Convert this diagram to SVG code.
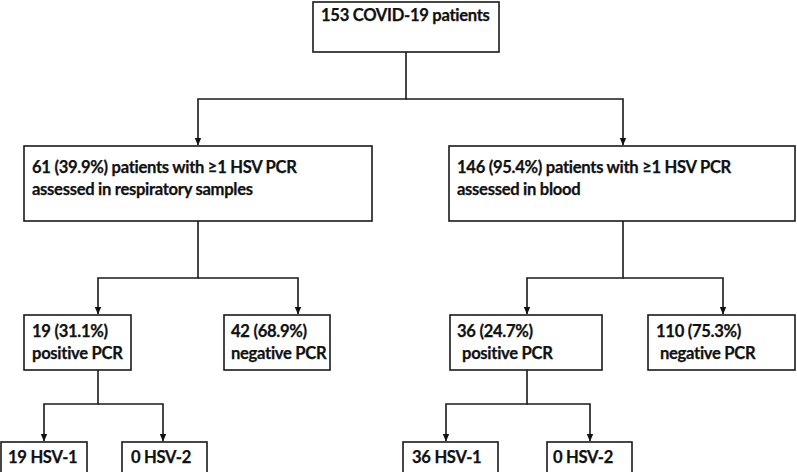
<svg xmlns="http://www.w3.org/2000/svg" width="797" height="472" viewBox="0 0 797 472">
<defs>
<marker id="ah" markerWidth="8" markerHeight="8" refX="7" refY="4" orient="auto" markerUnits="userSpaceOnUse">
<path d="M0,0.8 L7.5,4 L0,7.2 Z" fill="#111"/>
</marker>
<style>
.box{fill:#fff;stroke:#1a1a1a;stroke-width:1.6}
.t{font-family:Lato,"Open Sans","Liberation Sans",sans-serif;font-weight:bold;font-size:16.6px;letter-spacing:-0.3px;fill:#111;stroke:#111;stroke-width:0.25}
.c{fill:none;stroke:#1a1a1a;stroke-width:1.6}
</style>
</defs>
<rect width="797" height="472" fill="#fff"/>
<g id="connectors">
<path class="c" d="M406,52 V99 H198 V145" marker-end="url(#ah)"/>
<path class="c" d="M406,99 H623 V145" marker-end="url(#ah)"/>
<path class="c" d="M198,221 V278 H98 V314" marker-end="url(#ah)"/>
<path class="c" d="M198,278 H298 V314" marker-end="url(#ah)"/>
<path class="c" d="M623,221 V278 H527 V314" marker-end="url(#ah)"/>
<path class="c" d="M623,278 H723 V314" marker-end="url(#ah)"/>
<path class="c" d="M98,370 V404 H44 V441" marker-end="url(#ah)"/>
<path class="c" d="M98,404 H163 V441" marker-end="url(#ah)"/>
<path class="c" d="M527,370 V404 H446 V441" marker-end="url(#ah)"/>
<path class="c" d="M527,404 H590 V441" marker-end="url(#ah)"/>
</g>
<g id="n-top">
<rect class="box" x="313" y="2" width="186" height="50"/>
<text class="t" x="321" y="21">153 COVID-19 patients</text>
</g>
<g id="n-resp">
<rect class="box" x="24" y="146" width="348" height="75"/>
<text class="t" x="32" y="173">61 (39.9%) patients with ≥1 HSV PCR</text>
<text class="t" x="32" y="195">assessed in respiratory samples</text>
</g>
<g id="n-blood">
<rect class="box" x="449" y="146" width="346" height="75"/>
<text class="t" x="457" y="173">146 (95.4%) patients with ≥1 HSV PCR</text>
<text class="t" x="457" y="195">assessed in blood</text>
</g>
<g id="n-resp-pos">
<rect class="box" x="24" y="315" width="107" height="55"/>
<text class="t" x="32" y="337">19 (31.1%)</text>
<text class="t" x="32" y="359">positive PCR</text>
</g>
<g id="n-resp-neg">
<rect class="box" x="224" y="315" width="106" height="55"/>
<text class="t" x="231" y="337">42 (68.9%)</text>
<text class="t" x="231" y="359">negative PCR</text>
</g>
<g id="n-blood-pos">
<rect class="box" x="450" y="315" width="152" height="55"/>
<text class="t" x="457" y="337">36 (24.7%)</text>
<text class="t" x="462" y="359">positive PCR</text>
</g>
<g id="n-blood-neg">
<rect class="box" x="648" y="315" width="147" height="55"/>
<text class="t" x="656" y="337">110 (75.3%)</text>
<text class="t" x="660" y="359">negative PCR</text>
</g>
<g id="n-resp-hsv1">
<rect class="box" x="1" y="442" width="86" height="36"/>
<text class="t" x="8" y="463">19 HSV-1</text>
</g>
<g id="n-resp-hsv2">
<rect class="box" x="122" y="442" width="85" height="36"/>
<text class="t" x="131" y="463">0 HSV-2</text>
</g>
<g id="n-blood-hsv1">
<rect class="box" x="403" y="442" width="95" height="36"/>
<text class="t" x="412" y="463">36 HSV-1</text>
</g>
<g id="n-blood-hsv2">
<rect class="box" x="547" y="442" width="85" height="36"/>
<text class="t" x="553" y="463">0 HSV-2</text>
</g>
</svg>
